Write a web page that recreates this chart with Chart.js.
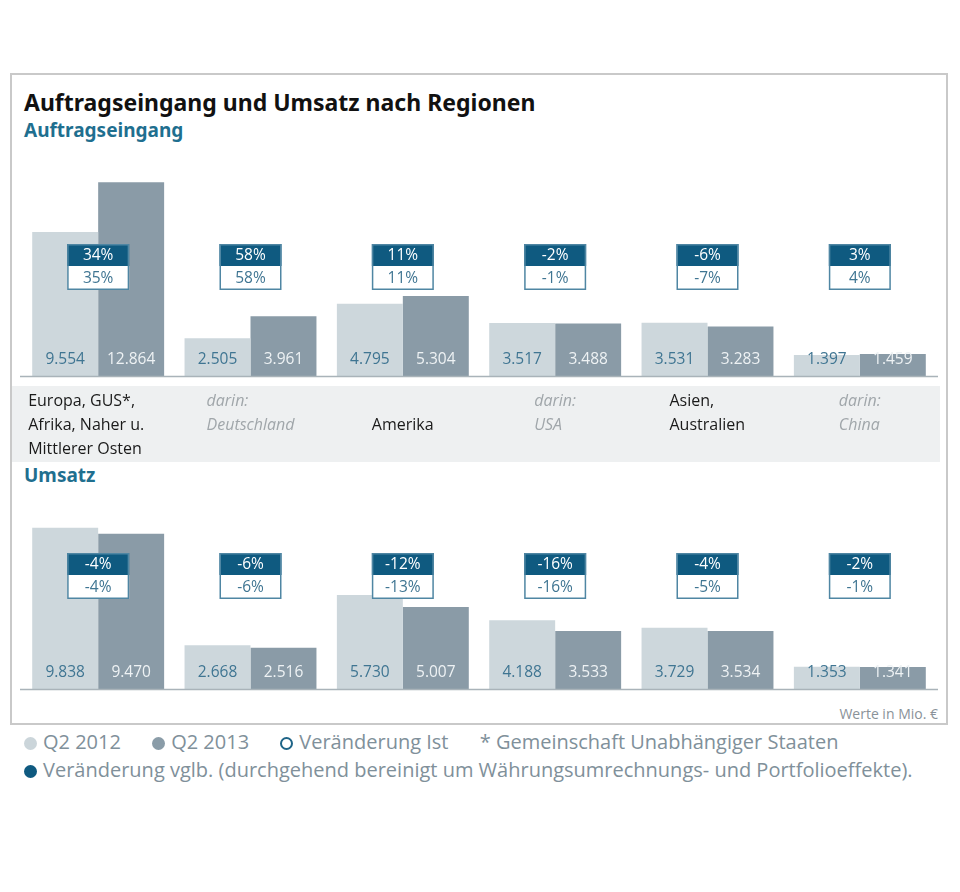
<!DOCTYPE html>
<html><head><meta charset="utf-8">
<script src="https://cdn.jsdelivr.net/npm/chart.js@4"></script>
<style>
html,body{margin:0;padding:0;background:#fff;width:960px;height:892px;overflow:hidden;font-family:"Open Sans","Noto Sans",sans-serif;}
#frame{position:absolute;left:10px;top:73px;width:934px;height:648px;border:2px solid #c9c9c9;}
#title{position:absolute;left:24px;top:86px;font:bold 23px "Noto Sans",sans-serif;color:#111;letter-spacing:0px;}
.sub{position:absolute;left:24px;font:bold 19px "Noto Sans",sans-serif;color:#1f6f8f;}
#band{position:absolute;left:12px;top:386px;width:928px;height:76px;background:#eef0f1;}
.cat{position:absolute;font:16px "Open Sans",sans-serif;line-height:24px;color:#1a1a1a;white-space:nowrap;}
.cat.sub2{font-style:italic;color:#a0a6aa;}
canvas{position:absolute;}
#unit{position:absolute;right:22px;top:704px;font:14px "Open Sans",sans-serif;color:#8a9299;}
.leg{position:absolute;left:24px;font:20px "Open Sans",sans-serif;color:#80909a;white-space:nowrap;}
.leg span.d{display:inline-block;width:13px;height:13px;border-radius:50%;margin-right:6px;vertical-align:-1px;box-sizing:border-box;}
.leg span.g{margin-right:26px;}
</style></head>
<body>
<div id="frame"></div>
<div id="title">Auftragseingang und Umsatz nach Regionen</div>
<div class="sub" style="top:117px">Auftragseingang</div>
<div id="band"></div>
<div class="sub" style="top:462px">Umsatz</div>
<canvas id="c1" width="936" height="240" style="left:10px;top:150px;width:936px;height:240px"></canvas>
<canvas id="c2" width="936" height="211" style="left:10px;top:489px;width:936px;height:211px"></canvas>
<div id="unit">Werte in Mio. €</div>
<div class="leg" style="top:728px">
<span class="d" style="background:#cbd5da"></span><span class="g">Q2 2012</span>
<span class="d" style="background:#8a9ca8"></span><span class="g">Q2 2013</span>
<span class="d" style="border:2px solid #1e6487"></span><span class="g">Veränderung Ist</span>
<span class="g">* Gemeinschaft Unabhängiger Staaten</span>
</div>
<div class="leg" style="top:756px"><span class="d" style="background:#0f5a80"></span>Veränderung vglb. (durchgehend bereinigt um Währungsumrechnungs- und Portfolioeffekte).</div>
<script>
const categories = [["Europa, GUS*,","Afrika, Naher u.","Mittlerer Osten"],["darin:","Deutschland"],["Amerika"],["darin:","USA"],["Asien,","Australien"],["darin:","China"]];
const isSubRegion = [false,true,false,true,false,true];
const seriesNames = ["Q2 2012","Q2 2013"];
const orders2012 = [9554,2505,4795,3517,3531,1397];
const orders2013 = [12864,3961,5304,3488,3283,1459];
const ordersChangeComparable = ["34%","58%","11%","-2%","-6%","3%"];
const ordersChangeActual = ["35%","58%","11%","-1%","-7%","4%"];
const revenue2012 = [9838,2668,5730,4188,3729,1353];
const revenue2013 = [9470,2516,5007,3533,3534,1341];
const revenueChangeComparable = ["-4%","-6%","-12%","-16%","-4%","-2%"];
const revenueChangeActual = ["-4%","-6%","-13%","-16%","-5%","-1%"];

const LIGHT="#cdd7dc", DARK="#8a9ba7", PETROL="#0f5a80";
const fmt = v => { const s=String(v); return s.length>3 ? s.slice(0,s.length-3)+"."+s.slice(-3) : s; };

function makePlugin(comp, act, boxOffset){
  return {
    id:'ann',
    afterDatasetsDraw(chart){
      const ctx=chart.ctx, x=chart.scales.x, y=chart.scales.y;
      const base=y.getPixelForValue(0);
      ctx.save();
      ctx.strokeStyle="#a9b3b9"; ctx.lineWidth=1.5;
      ctx.beginPath(); ctx.moveTo(chart.chartArea.left-2,base+0.5); ctx.lineTo(chart.chartArea.right+2,base+0.5); ctx.stroke();
      ctx.font='15.5px "Open Sans",sans-serif';
      ctx.textAlign="center"; ctx.textBaseline="middle";
      chart.data.datasets.forEach((ds,di)=>{
        const meta=chart.getDatasetMeta(di);
        meta.data.forEach((bar,i)=>{
          ctx.fillStyle = di===0 ? "#3f7592" : "#eef2f4";
          ctx.fillText(fmt(ds.data[i]), bar.x, base-16);
        });
      });
      for(let i=0;i<comp.length;i++){
        const cx=x.getPixelForValue(i), w=62, top=base-boxOffset;
        ctx.fillStyle=PETROL; ctx.fillRect(cx-w/2,top,w,22);
        ctx.fillStyle="#fff"; ctx.fillRect(cx-w/2,top+22,w,24);
        ctx.strokeStyle="#4f86a3"; ctx.lineWidth=1.5;
        ctx.strokeRect(cx-w/2+0.75,top+0.75,w-1.5,46-1.5);
        ctx.fillStyle="#fff"; ctx.fillText(comp[i],cx,top+11.5);
        ctx.fillStyle="#3f7592"; ctx.fillText(act[i],cx,top+34.5);
      }
      ctx.restore();
    }
  };
}

function makeChart(id, a, b, max, padBottom, comp, act, boxOffset){
  return new Chart(document.getElementById(id),{
    type:'bar',
    data:{labels:categories.map(c=>c.join(" ")),datasets:[
      {label:seriesNames[0],data:a,backgroundColor:LIGHT,categoryPercentage:0.866,barPercentage:1},
      {label:seriesNames[1],data:b,backgroundColor:DARK,categoryPercentage:0.866,barPercentage:1}]},
    options:{responsive:false,animation:false,
      layout:{padding:{left:12,right:10,top:0,bottom:padBottom}},
      plugins:{legend:{display:false},tooltip:{enabled:false}},
      scales:{x:{display:false},y:{display:false,min:0,max:max}}},
    plugins:[makePlugin(comp,act,boxOffset)]
  });
}
const ch1=makeChart('c1',orders2012,orders2013,15000,14,ordersChangeComparable,ordersChangeActual,132);
const ch2=makeChart('c2',revenue2012,revenue2013,12200,11,revenueChangeComparable,revenueChangeActual,136);

// category labels in the band
categories.forEach((lines,i)=>{
  const d=document.createElement('div');
  d.className='cat'+(isSubRegion[i]?' sub2':'');
  d.innerHTML=lines.join('<br>');
  document.body.appendChild(d);
  const cx=10+ch1.scales.x.getPixelForValue(i);
  d.style.left=Math.max(24, cx-d.offsetWidth/2-(i===0?12:0))+'px';
  d.style.top=(lines.length===1?412:388)+'px';
});
</script>
</body></html>
